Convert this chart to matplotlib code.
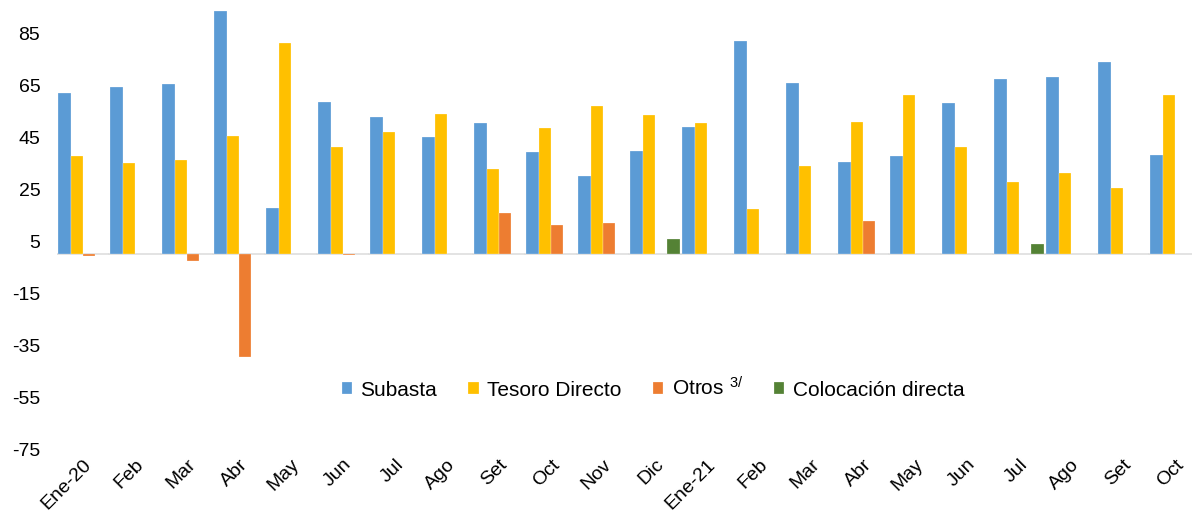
import numpy as np
import matplotlib
matplotlib.use('Agg')
import matplotlib.pyplot as plt

plt.rcParams['font.family'] = ['Liberation Sans', 'DejaVu Sans']
plt.rcParams['mathtext.default'] = 'regular'
plt.rcParams['axes.unicode_minus'] = False

meses = ['Ene-20', 'Feb', 'Mar', 'Abr', 'May', 'Jun', 'Jul', 'Ago', 'Set', 'Oct', 'Nov', 'Dic',
         'Ene-21', 'Feb', 'Mar', 'Abr', 'May', 'Jun', 'Jul', 'Ago', 'Set', 'Oct']

subasta = [62.3, 64.6, 65.6, 93.6, 18.0, 58.6, 52.9, 45.2, 50.7, 39.6, 30.2, 40.0,
           49.2, 82.3, 65.9, 35.6, 38.0, 58.2, 67.7, 68.3, 74.2, 38.4]
tesoro = [38.0, 35.3, 36.5, 45.7, 81.6, 41.2, 47.0, 54.2, 32.9, 48.8, 57.3, 53.6,
          50.5, 17.3, 33.9, 51.1, 61.5, 41.5, 28.0, 31.2, 25.4, 61.3]
otros = [-0.5, 0, -2.6, -39.6, 0, -0.2, 0, 0.3, 16.1, 11.3, 12.2, 0,
         0, 0, 0, 12.8, 0, 0, 0, 0, 0, 0]
colocacion = [0, 0, 0, 0, 0, 0, 0, 0, 0, 0, 0, 6.0,
              0, 0, 0, 0, 0, 0, 3.9, 0, 0, 0]

series = [subasta, tesoro, otros, colocacion]
labels = ['Subasta', 'Tesoro Directo', r'Otros $^{3/}$', 'Colocación directa']
colors = ['#5B9BD5', '#FFC000', '#ED7D31', '#548235']

W, H = 1192, 525
fig = plt.figure(figsize=(W / 100, H / 100), dpi=100)
ax = fig.add_axes([57 / W, (H - 449) / H, 1144 / W, 449 / H])

x = np.arange(len(meses))
w = 0.236
for k, (vals, lab, c) in enumerate(zip(series, labels, colors)):
    ax.bar(x + (k - 1.5) * w, vals, width=w, color=c, label=lab,
           edgecolor=(1, 1, 1, 0.6), linewidth=0.3)

ax.axhline(0, color='#D9D9D9', linewidth=1.2, zorder=0)

ax.set_xlim(-0.5, len(meses) - 0.5)
ax.set_ylim(-75, 98)
ax.set_yticks(np.arange(-75, 86, 20))
ax.set_xticks(x)
ax.set_xticklabels(meses, rotation=45, ha='right', rotation_mode='anchor', fontsize=14)
ax.tick_params(axis='y', labelsize=14, length=0, pad=12)
ax.tick_params(axis='x', length=0, pad=5)
for s in ax.spines.values():
    s.set_visible(False)

ax.legend(loc='center', bbox_to_anchor=(0.521, 0.136), ncol=4, frameon=False,
          fontsize=15, handlelength=0.5, handleheight=0.5, handletextpad=0.4,
          columnspacing=1.5)

fig.savefig('out.png', dpi=100)
